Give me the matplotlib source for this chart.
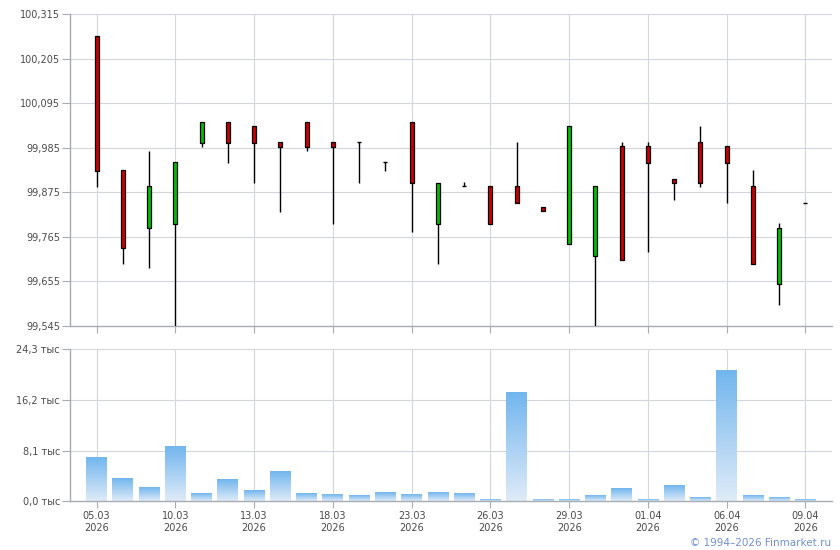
import numpy as np
import matplotlib
matplotlib.use("Agg")
import matplotlib.pyplot as plt
from matplotlib.colors import LinearSegmentedColormap

# daily OHLC, 05.03.2026 - 09.04.2026
opens = [100.260, 99.929, 99.787, 99.797, 99.997, 100.048, 100.038, 99.998, 100.048, 99.998,
         99.998, 99.949, 100.048, 99.797, 99.890, 99.890, 99.890, 99.838, 99.748, 99.718,
         99.988, 99.988, 99.909, 99.998, 99.988, 99.890, 99.648, 99.848]
closes = [99.928, 99.738, 99.890, 99.949, 100.048, 99.997, 99.997, 99.987, 99.987, 99.987,
          99.998, 99.949, 99.899, 99.899, 99.890, 99.797, 99.848, 99.828, 100.038, 99.890,
          99.708, 99.948, 99.899, 99.899, 99.948, 99.699, 99.788, 99.848]
highs = [100.260, 99.929, 99.978, 99.949, 100.048, 100.048, 100.038, 99.998, 100.048, 99.998,
         99.998, 99.949, 100.048, 99.899, 99.901, 99.890, 99.998, 99.838, 100.038, 99.890,
         99.998, 99.998, 99.909, 100.038, 99.988, 99.929, 99.798, 99.848]
lows = [99.889, 99.699, 99.689, 99.545, 99.987, 99.948, 99.899, 99.827, 99.978, 99.797,
        99.899, 99.928, 99.778, 99.699, 99.890, 99.797, 99.848, 99.828, 99.748, 99.545,
        99.708, 99.728, 99.857, 99.889, 99.848, 99.699, 99.597, 99.848]
# volume, thousands
volumes = [6.9, 3.6, 2.1, 8.7, 1.2, 3.4, 1.7, 4.7, 1.2, 1.0,
           0.85, 1.3, 1.0, 1.3, 1.2, 0.2, 17.3, 0.2, 0.2, 0.85,
           2.0, 0.2, 2.45, 0.5, 20.8, 0.85, 0.5, 0.2]

tick_labels = ['05.03\n2026', '10.03\n2026', '13.03\n2026', '18.03\n2026', '23.03\n2026',
               '26.03\n2026', '29.03\n2026', '01.04\n2026', '06.04\n2026', '09.04\n2026']
price_ticks = [99.545, 99.655, 99.765, 99.875, 99.985, 100.095, 100.205, 100.315]
vol_ticks = [0.0, 8.1, 16.2, 24.3]

txt = '#4a4a4a'
grid_c = '#d3d7db'
axis_c = '#a8acb0'
plt.rcParams['font.family'] = ['DejaVu Sans']
plt.rcParams['font.size'] = 7

fig = plt.figure(figsize=(8.4, 5.5), dpi=100)
ax1 = fig.add_axes([70.3 / 840, (550 - 326) / 550, 761.4 / 840, 312 / 550])
ax2 = fig.add_axes([70.3 / 840, (550 - 501.3) / 550, 761.4 / 840, 152 / 550])

x = np.arange(len(opens))
xt = x[::3]

def style(ax):
    for s in ['top', 'right']:
        ax.spines[s].set_visible(False)
    for s in ['left', 'bottom']:
        ax.spines[s].set_color(axis_c)
        ax.spines[s].set_linewidth(1.0)
    ax.grid(True, color=grid_c, linewidth=0.8)
    ax.set_axisbelow(True)
    ax.tick_params(axis='y', length=6, width=0.8, color=axis_c, pad=1.5, labelcolor=txt)
    ax.tick_params(axis='x', length=5, width=0.8, color=axis_c, pad=2, labelcolor=txt)
    ax.set_xlim(-1, 28)
    ax.set_xticks(xt)

# candles
style(ax1)
ax1.set_ylim(99.545, 100.315)
ax1.set_yticks(price_ticks)
ax1.set_yticklabels([f'{v:.3f}'.replace('.', ',') for v in price_ticks])
ax1.set_xticklabels([])
bw = 0.15
for i in range(len(opens)):
    o, c, h, l = opens[i], closes[i], highs[i], lows[i]
    ax1.vlines(x[i], l, h, color='black', linewidth=1, zorder=3)
    if abs(o - c) < 0.001:
        ax1.hlines(o, x[i] - bw / 2, x[i] + bw / 2, color='black', linewidth=1, zorder=4)
    else:
        col = '#00c000' if c > o else '#cc0000'
        ax1.bar(x[i], c - o, bottom=o, width=bw, color=col, edgecolor='black',
                linewidth=0.9, zorder=4)

# volume with gradient bars
style(ax2)
cmap = LinearSegmentedColormap.from_list('vol', ['#dfebf8', '#72b6ee'])
grad = np.linspace(0, 1, 100).reshape(-1, 1)
vw = 0.79
for i, v in enumerate(volumes):
    ax2.imshow(grad, extent=[x[i] - vw / 2, x[i] + vw / 2, 0, v], origin='lower',
               cmap=cmap, aspect='auto', zorder=2)
ax2.set_ylim(0, 24.3)
ax2.set_xlim(-1, 28)
ax2.set_yticks(vol_ticks)
ax2.set_yticklabels([f'{v:.1f}'.replace('.', ',') + ' тыс' for v in vol_ticks])
ax2.set_xticklabels(tick_labels, linespacing=1.25)

fig.text(831 / 840, 1 - 543 / 550, '© 1994–2026 Finmarket.ru', ha='right', va='center',
         color='#6f8fd8', fontsize=7.5)

fig.savefig('out.png', dpi=100)
